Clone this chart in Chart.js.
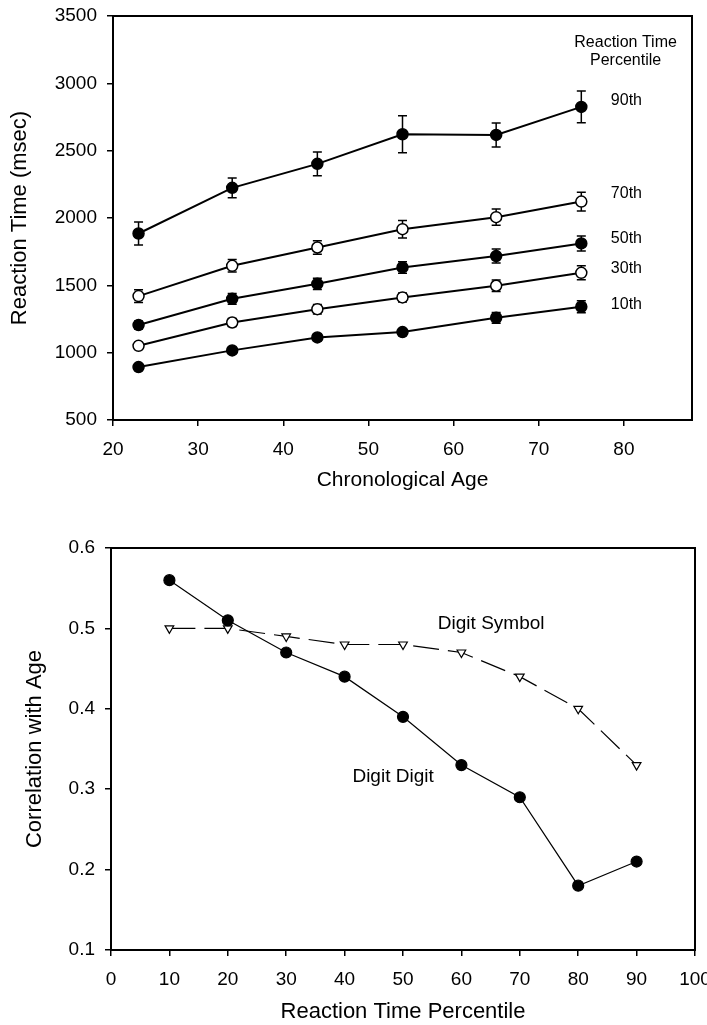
<!DOCTYPE html>
<html>
<head>
<meta charset="utf-8">
<script src="https://cdn.jsdelivr.net/npm/chart.js@4.4.1/dist/chart.umd.min.js"></script>
<style>
  body { margin: 0; background: #fff; }
  canvas { position: absolute; left: 0; }
  #topChart { top: 0; }
  #bottomChart { top: 495px; }
</style>
</head>
<body>
<canvas id="topChart" width="707" height="495"></canvas>
<canvas id="bottomChart" width="707" height="530"></canvas>
<script>
// top panel: reaction time by age, one line per percentile
const ages = [23, 34, 44, 54, 65, 75];
const ageTicks = [20, 30, 40, 50, 60, 70, 80];
const rtTicks = [500, 1000, 1500, 2000, 2500, 3000, 3500];

const rt10 = [893, 1017, 1113, 1153, 1259, 1341];
const rt30 = [1051, 1224, 1323, 1410, 1497, 1593];
const rt50 = [1205, 1400, 1511, 1633, 1717, 1811];
const rt70 = [1420, 1645, 1781, 1917, 2006, 2122];
const rt90 = [1885, 2224, 2402, 2622, 2617, 2825];

const err10 = [20, 20, 25, 25, 40, 45];
const err30 = [25, 30, 35, 33, 43, 52];
const err50 = [30, 40, 42, 43, 52, 56];
const err70 = [47, 46, 50, 65, 60, 70];
const err90 = [85, 73, 88, 138, 89, 118];

const percentileNames = ['10th', '30th', '50th', '70th', '90th'];

// bottom panel: correlation with age by percentile
const percentiles = [10, 20, 30, 40, 50, 60, 70, 80, 90];
const pctTicks = [0, 10, 20, 30, 40, 50, 60, 70, 80, 90, 100];
const corrTicks = [0.1, 0.2, 0.3, 0.4, 0.5, 0.6];
const digitDigit = [0.56, 0.51, 0.47, 0.44, 0.39, 0.33, 0.29, 0.18, 0.21];
const digitSymbol = [0.50, 0.50, 0.49, 0.48, 0.48, 0.47, 0.44, 0.40, 0.33];

const FONT = '"Liberation Sans", Arial, sans-serif';

function toPoints(xs, ys) {
    return xs.map((x, i) => ({ x: x, y: ys[i] }));
}

// pin the plot area: fixed axis size, no extra room for edge labels
function fixedScale(width, height) {
    return function (scale) {
        if (width !== null) scale.width = width;
        if (height !== null) scale.height = height;
        scale.paddingLeft = 0;
        scale.paddingRight = 0;
        scale.paddingTop = 0;
        scale.paddingBottom = 0;
    };
}

const frame = {
    id: 'frame',
    beforeDatasetsDraw(chart) {
        const { ctx, chartArea } = chart;
        ctx.save();
        ctx.strokeStyle = '#000';
        ctx.lineWidth = 2;
        ctx.strokeRect(chartArea.left, chartArea.top, chartArea.right - chartArea.left, chartArea.bottom - chartArea.top);
        ctx.restore();
    }
};

const errorBars = {
    id: 'errorBars',
    beforeDatasetsDraw(chart) {
        const { ctx, scales } = chart;
        ctx.save();
        ctx.strokeStyle = '#000';
        ctx.lineWidth = 1.5;
        chart.data.datasets.forEach(ds => {
            ds.data.forEach((p, i) => {
                const x = scales.x.getPixelForValue(p.x);
                const y1 = scales.y.getPixelForValue(p.y + ds.errors[i]);
                const y2 = scales.y.getPixelForValue(p.y - ds.errors[i]);
                ctx.beginPath();
                ctx.moveTo(x, y1); ctx.lineTo(x, y2);
                ctx.moveTo(x - 4.5, y1); ctx.lineTo(x + 4.5, y1);
                ctx.moveTo(x - 4.5, y2); ctx.lineTo(x + 4.5, y2);
                ctx.stroke();
            });
        });
        ctx.restore();
    }
};

const textLabels = {
    id: 'textLabels',
    afterDraw(chart, args, opts) {
        const { ctx, scales } = chart;
        ctx.save();
        ctx.fillStyle = '#000';
        ctx.textAlign = 'center';
        ctx.textBaseline = 'middle';
        ctx.font = opts.font;
        opts.items.forEach(item => {
            ctx.fillText(item.text, scales.x.getPixelForValue(item.x), scales.y.getPixelForValue(item.y));
        });
        ctx.restore();
    }
};

function axisStyle(extra, tickPadding, fmt) {
    return Object.assign({
        type: 'linear',
        border: { display: false },
        grid: { display: true, drawOnChartArea: false, drawTicks: true, tickLength: 6, color: '#000', lineWidth: 1.5 },
        ticks: { color: '#000', font: { family: FONT, size: 19 }, padding: tickPadding, callback: fmt }
    }, extra);
}

const plain = v => String(v);
const oneDecimal = v => v.toFixed(1);

const topSets = [rt10, rt30, rt50, rt70, rt90].map((vals, i) => ({
    label: percentileNames[i],
    data: toPoints(ages, vals),
    errors: [err10, err30, err50, err70, err90][i],
    borderColor: '#000',
    borderWidth: 2,
    pointRadius: 5.5,
    pointBorderWidth: 1.5,
    pointBorderColor: '#000',
    pointBackgroundColor: (i === 1 || i === 3) ? '#fff' : '#000',
    tension: 0
}));

new Chart(document.getElementById('topChart'), {
    type: 'line',
    data: { datasets: topSets },
    options: {
        responsive: false,
        animation: false,
        layout: { padding: { top: 16, right: 15, left: 0, bottom: 0 } },
        plugins: {
            legend: { display: false },
            tooltip: { enabled: false },
            textLabels: {
                font: '16px ' + FONT,
                items: [
                    { text: 'Reaction Time', x: 80.2, y: 3300 },
                    { text: 'Percentile', x: 80.2, y: 3170 },
                    { text: '90th', x: 80.3, y: 2869 },
                    { text: '70th', x: 80.3, y: 2178 },
                    { text: '50th', x: 80.3, y: 1844 },
                    { text: '30th', x: 80.3, y: 1621 },
                    { text: '10th', x: 80.3, y: 1354 }
                ]
            }
        },
        scales: {
            x: axisStyle({
                min: 20, max: 88,
                afterBuildTicks: s => { s.ticks = ageTicks.map(v => ({ value: v })); },
                afterFit: fixedScale(null, 75),
                title: { display: true, text: 'Chronological Age', color: '#000', font: { family: FONT, size: 21 }, padding: { top: 0, bottom: 2 } }
            }, 12, plain),
            y: axisStyle({
                min: 500, max: 3500,
                afterBuildTicks: s => { s.ticks = rtTicks.map(v => ({ value: v })); },
                afterFit: fixedScale(113, null),
                title: { display: true, text: 'Reaction Time (msec)', color: '#000', font: { family: FONT, size: 22 }, padding: { top: 7, bottom: 0 } }
            }, 10, plain)
        }
    },
    plugins: [frame, errorBars, textLabels]
});

new Chart(document.getElementById('bottomChart'), {
    type: 'line',
    data: {
        datasets: [
            {
                label: 'Digit Digit',
                data: toPoints(percentiles, digitDigit),
                borderColor: '#000',
                borderWidth: 1.2,
                pointRadius: 5.5,
                pointBackgroundColor: '#000',
                pointBorderColor: '#000',
                tension: 0
            },
            {
                label: 'Digit Symbol',
                data: toPoints(percentiles, digitSymbol),
                borderColor: '#000',
                borderWidth: 1.2,
                borderDash: [26, 9],
                pointStyle: 'triangle',
                pointRotation: 180,
                pointRadius: 5,
                pointBorderWidth: 1.2,
                pointBackgroundColor: '#fff',
                pointBorderColor: '#000',
                tension: 0
            }
        ]
    },
    options: {
        responsive: false,
        animation: false,
        layout: { padding: { top: 53, right: 12, left: 0, bottom: 0 } },
        plugins: {
            legend: { display: false },
            tooltip: { enabled: false },
            textLabels: {
                font: '19px ' + FONT,
                items: [
                    { text: 'Digit Symbol', x: 65.1, y: 0.506 },
                    { text: 'Digit Digit', x: 48.3, y: 0.315 }
                ]
            }
        },
        scales: {
            x: axisStyle({
                min: 0, max: 100,
                afterBuildTicks: s => { s.ticks = pctTicks.map(v => ({ value: v })); },
                afterFit: fixedScale(null, 75),
                title: { display: true, text: 'Reaction Time Percentile', color: '#000', font: { family: FONT, size: 22 }, padding: { top: 9, bottom: 0 } }
            }, 12, plain),
            y: axisStyle({
                min: 0.1, max: 0.6,
                afterBuildTicks: s => { s.ticks = corrTicks.map(v => ({ value: v })); },
                afterFit: fixedScale(111, null),
                title: { display: true, text: 'Correlation with Age', color: '#000', font: { family: FONT, size: 22 }, padding: { top: 22, bottom: 0 } }
            }, 10, oneDecimal)
        }
    },
    plugins: [frame, textLabels]
});
</script>
</body>
</html>
